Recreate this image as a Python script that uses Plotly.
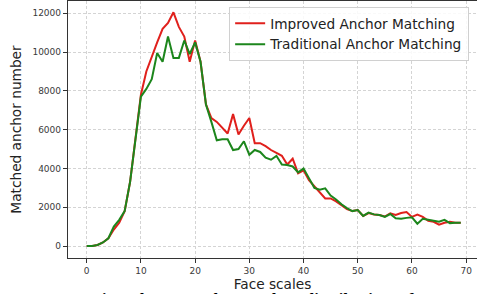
import plotly.graph_objects as go

face_scales = list(range(70))

improved = [0, 0, 50, 180, 400, 850, 1200, 1800, 3300, 5600,
            7800, 9000, 9800, 10500, 11200, 11500, 12050, 11300, 10800, 9500,
            10600, 9500, 7300, 6600, 6400, 6100, 5800, 6800, 5750, 6200,
            6600, 5300, 5300, 5150, 4950, 4800, 4650, 4200, 4500, 3750,
            3900, 3400, 3100, 2800, 2450, 2450, 2300, 2100, 1900, 1800,
            1850, 1550, 1700, 1620, 1600, 1520, 1680, 1600, 1700, 1750,
            1500, 1620, 1500, 1300, 1250, 1100, 1200, 1250, 1200, 1200]

traditional = [0, 0, 50, 180, 400, 1000, 1350, 1800, 3300, 5500,
               7700, 8100, 8600, 9950, 9500, 10800, 9700, 9700, 10600, 9900,
               10500, 9500, 7300, 6400, 5450, 5500, 5500, 4950, 5000, 5400,
               4700, 4950, 4850, 4550, 4450, 4650, 4200, 4180, 4100, 3800,
               4000, 3500, 3000, 2900, 2970, 2600, 2400, 2150, 1950, 1800,
               1850, 1550, 1720, 1630, 1600, 1500, 1650, 1430, 1400, 1450,
               1480, 1150, 1400, 1350, 1300, 1250, 1350, 1180, 1200, 1200]

x_ticks = [0, 10, 20, 30, 40, 50, 60, 70]
y_ticks = [0, 2000, 4000, 6000, 8000, 10000, 12000]

fig = go.Figure()
fig.add_trace(go.Scatter(x=face_scales, y=improved, mode="lines",
                         name="Improved Anchor Matching",
                         line=dict(color="#e0201c", width=2)))
fig.add_trace(go.Scatter(x=face_scales, y=traditional, mode="lines",
                         name="Traditional Anchor Matching",
                         line=dict(color="#1c861c", width=2)))

axis_common = dict(
    showgrid=True, gridcolor="#d4d4d4", griddash="3px,2px", gridwidth=1,
    showline=True, linecolor="#333333", linewidth=1.3,
    ticks="outside", ticklen=4, tickcolor="#333333", tickwidth=1,
    tickfont=dict(family="DejaVu Sans", size=9, color="#3a3a3a"),
    zeroline=False, tickformat="d",
)

fig.update_xaxes(range=[-3.45, 72.0], tickvals=x_ticks, mirror=True,
                 title=dict(text="Face scales", standoff=3,
                            font=dict(family="DejaVu Sans", size=13.7, color="#222222")),
                 **axis_common)
fig.update_yaxes(range=[-619, 12634], tickvals=y_ticks,
                 title=dict(text="Matched anchor number", standoff=7,
                            font=dict(family="DejaVu Sans", size=13.7, color="#222222")),
                 **axis_common)

fig.add_annotation(text="<b>5:  Comparison  between  the  number  distribution  of</b>",
                   xref="paper", yref="paper", x=-0.125, y=-0.116,
                   xanchor="left", yanchor="top", showarrow=False,
                   font=dict(family="Liberation Serif", size=17, color="#000000"))

fig.update_layout(
    width=477, height=294,
    margin=dict(l=68, r=0, t=1, b=36),
    paper_bgcolor="white", plot_bgcolor="white",
    showlegend=True,
    legend=dict(x=0.394, y=0.977, xanchor="left", yanchor="top",
                bgcolor="rgba(255,255,255,0.85)", bordercolor="#d0d0d0", borderwidth=1,
                font=dict(family="DejaVu Sans", size=13.7, color="#222222")),
)

fig.write_html("out.html", config={"displayModeBar": False},
               post_script="document.body.style.margin='0px';document.body.style.overflow='hidden';")
